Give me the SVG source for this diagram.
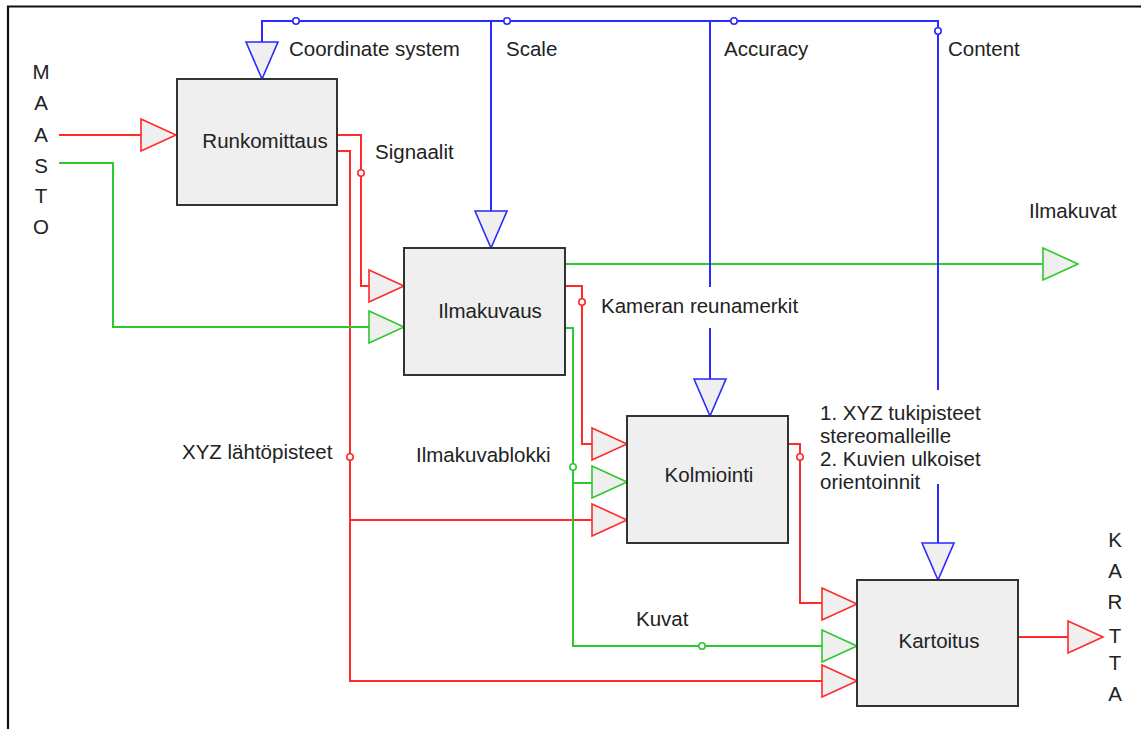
<svg xmlns="http://www.w3.org/2000/svg" xmlns:xlink="http://www.w3.org/1999/xlink" width="1141" height="729" viewBox="0 0 1141 729">
<style>
text{font-family:"Liberation Sans",Arial,sans-serif;font-size:20.5px;fill:#222}
.box{fill:#efefef;stroke:#333;stroke-width:2}
.w{fill:none;stroke-width:2}
.r{stroke:#ff2a2a}
.g{stroke:#2ec82e}
.b{stroke:#2a2aff}
.dot{fill:#fff;stroke-width:1.6}
.frame{stroke:#111;stroke-width:2.2;fill:none}
.mid{text-anchor:middle}
</style>
<defs>
<path id="tr" d="M-35,-16 L0,0 L-35,16 Z" fill="#efefef" stroke-width="1.6"/>
<path id="td" d="M-16,-37 L0,0 L16,-37 Z" fill="#efefef" stroke-width="1.6"/>
</defs>
<rect width="1141" height="729" fill="#fff"/>
<path class="frame" d="M8,729 V6.5 H1141"/>

<g id="connectors">
<g class="w r">
<path d="M59,135 H142"/>
<path d="M337,135 H361 V286 H369"/>
<path d="M337,151 H350 V681 H822"/>
<path d="M350,520 H592"/>
<path d="M565,286 H582 V444 H592"/>
<path d="M788,444 H800 V603 H822"/>
<path d="M1018,637 H1068"/>
</g>
<g class="w g">
<path d="M59,163 H113 V327 H369"/>
<path d="M565,264 H1043"/>
<path d="M565,328 H573 V646 H822"/>
<path d="M573,483 H592"/>
</g>
<g class="w b">
<path d="M262,42 V21 H938 V390"/>
<path d="M938,484 V543"/>
<path d="M491,21 V211"/>
<path d="M710,21 V287"/>
<path d="M710,328 V379"/>
</g>
<g class="r">
<use xlink:href="#tr" x="176" y="135"/>
<use xlink:href="#tr" x="404" y="286"/>
<use xlink:href="#tr" x="627" y="444"/>
<use xlink:href="#tr" x="627" y="520"/>
<use xlink:href="#tr" x="857" y="604"/>
<use xlink:href="#tr" x="857" y="681"/>
<use xlink:href="#tr" x="1103" y="637"/>
<circle class="dot" cx="361" cy="173" r="3.2"/>
<circle class="dot" cx="350" cy="457" r="3.2"/>
<circle class="dot" cx="582" cy="302" r="3.2"/>
<circle class="dot" cx="800" cy="457" r="3.2"/>
</g>
<g class="g">
<use xlink:href="#tr" x="404" y="327"/>
<use xlink:href="#tr" x="627" y="482"/>
<use xlink:href="#tr" x="857" y="646"/>
<use xlink:href="#tr" x="1078" y="264"/>
<circle class="dot" cx="573" cy="467" r="3.2"/>
<circle class="dot" cx="702" cy="646" r="3.2"/>
</g>
<g class="b">
<use xlink:href="#td" x="262" y="79"/>
<use xlink:href="#td" x="491" y="248"/>
<use xlink:href="#td" x="710" y="416"/>
<use xlink:href="#td" x="938" y="580"/>
<circle class="dot" cx="296" cy="21" r="3.2"/>
<circle class="dot" cx="507" cy="21" r="3.2"/>
<circle class="dot" cx="734" cy="21" r="3.2"/>
<circle class="dot" cx="938" cy="31" r="3.2"/>
</g>
</g>

<g id="runkomittaus">
<rect class="box" x="177" y="79" width="160" height="126"/>
<text class="mid" x="265" y="148">Runkomittaus</text>
</g>
<g id="ilmakuvaus">
<rect class="box" x="404" y="248" width="161" height="127"/>
<text class="mid" x="490" y="318">Ilmakuvaus</text>
</g>
<g id="kolmiointi">
<rect class="box" x="627" y="416" width="161" height="127"/>
<text class="mid" x="709" y="482">Kolmiointi</text>
</g>
<g id="kartoitus">
<rect class="box" x="857" y="580" width="161" height="126"/>
<text class="mid" x="939" y="648">Kartoitus</text>
</g>

<g id="maasto" class="mid">
<text x="41" y="79">M</text>
<text x="41" y="110">A</text>
<text x="41" y="142">A</text>
<text x="41" y="173">S</text>
<text x="41" y="203">T</text>
<text x="41" y="234">O</text>
</g>
<g id="kartta" class="mid">
<text x="1115" y="547">K</text>
<text x="1115" y="578">A</text>
<text x="1115" y="609">R</text>
<text x="1115" y="643">T</text>
<text x="1115" y="670">T</text>
<text x="1115" y="701">A</text>
</g>

<g id="labels">
<text x="289" y="56">Coordinate system</text>
<text x="506" y="56">Scale</text>
<text x="724" y="56">Accuracy</text>
<text x="948" y="56">Content</text>
<text x="375" y="159">Signaalit</text>
<text x="1029" y="218">Ilmakuvat</text>
<text x="601" y="313">Kameran reunamerkit</text>
<text x="182" y="459">XYZ lähtöpisteet</text>
<text x="416" y="462">Ilmakuvablokki</text>
<text x="636" y="626">Kuvat</text>
<text x="820" y="420">1. XYZ tukipisteet</text>
<text x="820" y="443">stereomalleille</text>
<text x="820" y="466">2. Kuvien ulkoiset</text>
<text x="820" y="489">orientoinnit</text>
</g>
</svg>
